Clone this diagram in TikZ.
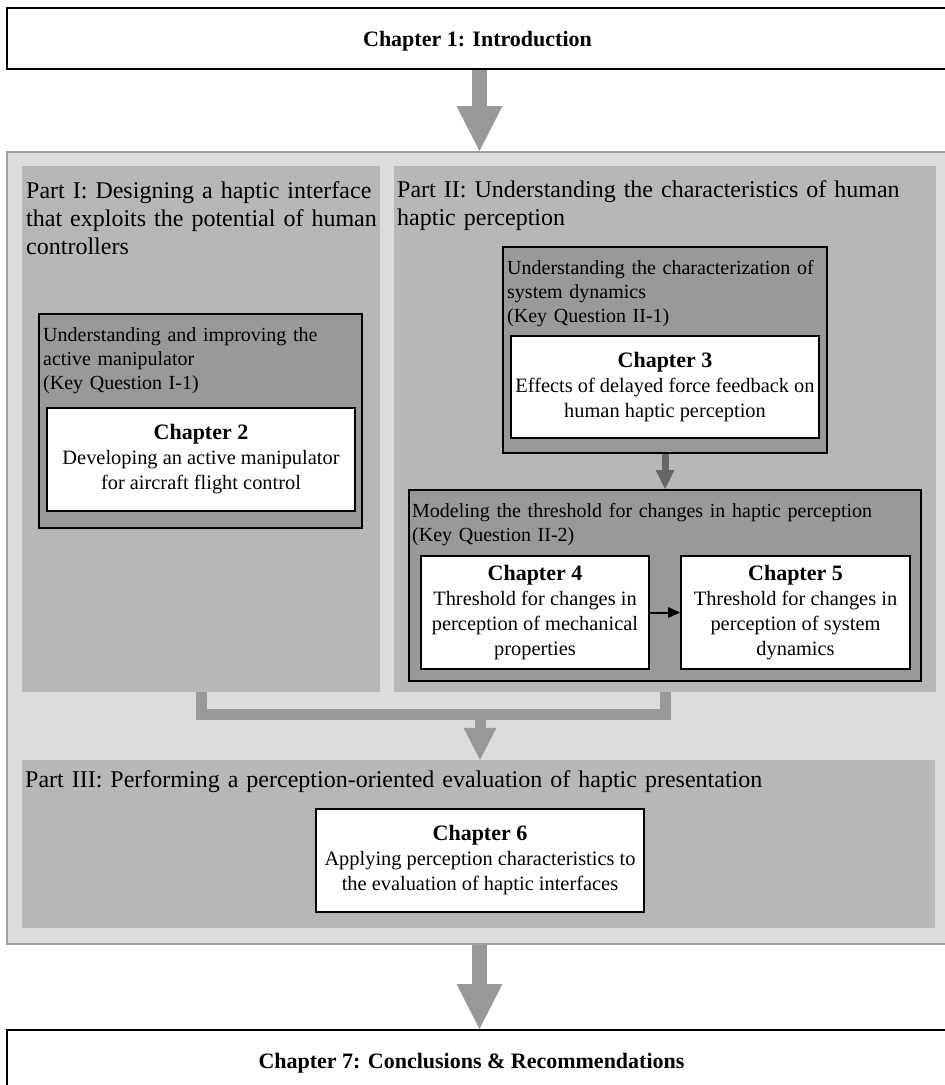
\documentclass[tikz,border=0pt]{standalone}
\usepackage{fontspec}
\setmainfont{Liberation Serif}
\usetikzlibrary{arrows.meta}
\definecolor{outerc}{HTML}{DCDCDC}
\definecolor{outerline}{HTML}{A0A0A0}
\definecolor{partc}{HTML}{B7B7B7}
\definecolor{subc}{HTML}{999999}
\definecolor{arrowc}{HTML}{999999}
\definecolor{darkarrow}{HTML}{666666}
\begin{document}
\begin{tikzpicture}[x=1pt,y=-1pt,
  outerbox/.style={draw=outerline, line width=2pt, fill=outerc, inner sep=0pt},
  partbox/.style={fill=partc, inner sep=0pt},
  subbox/.style={draw=black, line width=2pt, fill=subc, inner sep=0pt},
  chapbox/.style={draw=black, line width=2pt, fill=white, inner sep=0pt, align=center,
    font=\fontsize{20.4}{25}\selectfont},
  endbox/.style={draw=black, line width=2pt, fill=white, inner sep=0pt,
    text height=16pt, text depth=0pt,
    font=\fontsize{22}{25}\selectfont\bfseries},
  parttitle/.style={anchor=base west, inner sep=0pt, text width=900pt, align=left,
    font=\fontsize{24}{28.3}\selectfont},
  subtitle/.style={anchor=base west, inner sep=0pt, text width=520pt, align=left,
    font=\fontsize{20}{24}\selectfont},
  bigarrow/.style={draw=arrowc, line width=15pt,
    -{Triangle[width=46pt,length=45pt,line width=0pt]}},
  mergeline/.style={draw=arrowc, line width=11pt},
  mergearrow/.style={draw=arrowc, line width=11pt,
    -{Triangle[width=33pt,length=32pt,line width=0pt]}},
  innerarrow/.style={draw=darkarrow, line width=7pt,
    -{Triangle[width=19pt,length=19pt,line width=0pt]}},
  smallarrow/.style={draw=black, line width=2pt,
    -{Triangle[width=11pt,length=12pt,line width=0pt]}}
]
\useasboundingbox (0,0) rectangle (945,1085);

% Chapter 1
\node[endbox, minimum width=941pt, minimum height=61pt] (ch1) at (477.5,38.5) {Chapter 1: Introduction};

% outer container
\node[outerbox, minimum width=941pt, minimum height=792pt] (outer) at (477.5,548) {};

% parts
\node[partbox, minimum width=358pt, minimum height=526pt] (p1) at (201,429) {};
\node[partbox, minimum width=542pt, minimum height=526pt] (p2) at (665,429) {};
\node[partbox, minimum width=913pt, minimum height=168pt] (p3) at (478.5,844) {};

\node[parttitle] (p1t) at (26,198) {Part I: Designing a haptic interface\\that exploits the potential of human\\controllers};
\node[parttitle] (p2t) at (397,197) {Part II: Understanding the characteristics of human\\haptic perception};
\node[parttitle] (p3t) at (25,787) {Part III: Performing a perception-oriented evaluation of haptic presentation};

% sub groups
\node[subbox, minimum width=323pt, minimum height=214pt] (s11) at (200.5,421) {};
\node[subbox, minimum width=324pt, minimum height=206pt] (s21) at (665,350) {};
\node[subbox, minimum width=512pt, minimum height=191pt] (s22) at (665,585.5) {};

\node[subtitle] (s11t) at (43,341) {Understanding and improving the\\active manipulator\\(Key Question I-1)};
\node[subtitle] (s21t) at (507,274) {Understanding the characterization of\\system dynamics\\(Key Question II-1)};
\node[subtitle] (s22t) at (412,517) {Modeling the threshold for changes in haptic perception\\(Key Question II-2)};

% chapters
\node[chapbox, minimum width=308pt, minimum height=103pt] (ch2) at (201,459.5)
  {{\bfseries\fontsize{22}{25}\selectfont Chapter 2}\\Developing an active manipulator\\for aircraft flight control};
\node[chapbox, minimum width=308pt, minimum height=102pt] (ch3) at (665,387)
  {{\bfseries\fontsize{22}{25}\selectfont Chapter 3}\\Effects of delayed force feedback on\\human haptic perception};
\node[chapbox, minimum width=228pt, minimum height=113pt] (ch4) at (535,612.5)
  {{\bfseries\fontsize{22}{25}\selectfont Chapter 4}\\Threshold for changes in\\perception of mechanical\\properties};
\node[chapbox, minimum width=229pt, minimum height=113pt] (ch5) at (795.5,612.5)
  {{\bfseries\fontsize{22}{25}\selectfont Chapter 5}\\Threshold for changes in\\perception of system\\dynamics};
\node[chapbox, minimum width=328pt, minimum height=103pt] (ch6) at (480,860.5)
  {{\bfseries\fontsize{22}{25}\selectfont Chapter 6}\\Applying perception characteristics to\\the evaluation of haptic interfaces};

% Chapter 7
\node[endbox, minimum width=941pt, minimum height=60pt] (ch7) at (477.5,1060) {\hspace*{-12pt}Chapter 7: Conclusions \& Recommendations};

% connectors
\draw[bigarrow] ([xshift=2pt]ch1.south) -- ([xshift=2pt]outer.north);
\draw[bigarrow] ([xshift=2pt]outer.south) -- ([xshift=2pt]ch7.north);
\draw[innerarrow] (s21.south) -- (s22.north);
\draw[smallarrow] (ch4.east) -- (ch5.west);
\draw[mergeline] (p1.south) -- ++(0,22.5) -| (p2.south);
\coordinate (join) at (480,714.5);
\draw[mergearrow] (join) -- (join |- p3.north);
\end{tikzpicture}
\end{document}
